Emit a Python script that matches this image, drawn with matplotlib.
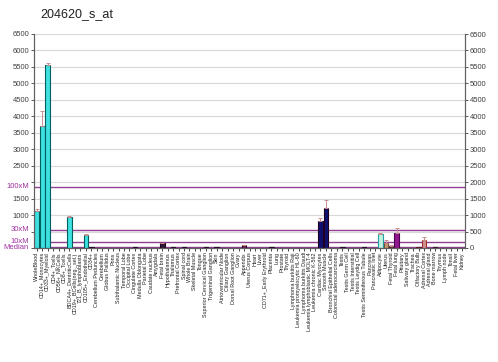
import matplotlib
matplotlib.use("Agg")
import matplotlib.pyplot as plt
import numpy as np

plt.rcParams['font.family'] = ['Liberation Sans', 'DejaVu Sans']

title = "204620_s_at"
samples = [
    "WholeBlood", "CD14+_Monocytes", "CD33+_Myeloid", "CD4+_Tcells", "CD56+_NKCells",
    "CD8+_Tcells", "BDCA4+_DentriticCells", "CD19+_BCells(neg._sel.)", "721_B_lymphoblasts",
    "CD105+_Endothelial", "CD34+", "Cerebellum Peduncles", "Cerebellum", "Globus Pallidus",
    "Pons", "Subthalamic Nucleus", "Temporal Lobe", "Occipital Lobe", "Cingulate Cortex",
    "Medulla Oblongata", "Parietal Lobe", "Caudate nucleus", "Amygdala", "Fetal brain",
    "Hypothalamus", "Thalamus", "Prefrontal Cortex", "Spinal cord", "Whole Brain",
    "Skeletal Muscle", "Tongue", "Superior Cervical Ganglion", "Trigeminal Ganglion", "Skin",
    "Atrioventricular Node", "Ciliary Ganglion", "Dorsal Root Ganglion", "Ovary", "Appendix",
    "Uterus Corpus", "Heart", "Liver", "CD71+_Early Erythroid", "Placenta", "Lung", "Prostate",
    "Thyroid", "Lymphoma burkitts Raji", "Leukemia promyelocytic HL-60",
    "Lymphoma burkitts Daudi", "Leukemia lymphoblastic MOLT-4", "Leukemia chronic K-562",
    "Cardiac Myocytes", "Smooth Muscle", "Bronchial Epithelial Cells",
    "Colorectal adenocarcinoma", "Testis", "Testis Germ Cell", "Testis Interstitial",
    "Testis Leydig Cell", "Testis Seminiferous Tubule", "Pancreas", "Pancreatic Islet",
    "Adipocyte", "Uterus", "Fetal Thyroid", "Fetal lung", "Pituitary", "Salivary gland",
    "Trachea", "Olfactory Bulb", "Adrenal Cortex", "Adrenal gland", "Bone marrow", "Thymus",
    "Lymph node", "Tonsil", "Fetal liver", "Kidney",
]
values = [
    1130, 3720, 5550, 12, 14, 12, 940, 10, 12, 400,
    40, 12, 10, 10, 12, 10, 12, 10, 30, 12,
    10, 12, 10, 140, 12, 40, 10, 30, 12, 10,
    12, 30, 10, 25, 10, 12, 10, 12, 90, 10,
    12, 10, 12, 20, 10, 12, 10, 12, 10, 12,
    10, 12, 830, 1220, 12, 10, 30, 10, 12, 10,
    30, 12, 10, 430, 150, 70, 470, 12, 10, 12,
    40, 230, 12, 20, 10, 12, 10, 12, 10,
]
errors = [
    60, 430, 70, 0, 0, 0, 30, 0, 0, 30,
    0, 0, 0, 0, 0, 0, 0, 0, 0, 0,
    0, 0, 0, 20, 0, 0, 0, 0, 0, 0,
    0, 0, 0, 0, 0, 0, 0, 0, 10, 0,
    0, 0, 0, 0, 0, 0, 0, 0, 0, 0,
    0, 0, 70, 230, 0, 0, 0, 0, 0, 0,
    0, 0, 0, 20, 100, 10, 130, 0, 0, 0,
    0, 110, 0, 0, 0, 0, 0, 0, 0,
]
# group colours (fill, edge) by sample index
fills = (["#3ee0e0"] * 10 + ["#301830"] * 19 + ["#502040"] * 9 + ["#802050"] * 2 +
         ["#502040"] * 12 + ["#101070"] * 4 + ["#602060"] * 7 +
         ["#c0f0e0", "#c09878", "#603040", "#901890", "#602050", "#602050",
          "#502040", "#a04050", "#d09090", "#602050", "#502040", "#602050",
          "#502040", "#602050", "#502040", "#602050"])
edges = (["#006060"] * 10 + ["#200020"] * 53 +
         ["#20a0a0", "#805030", "#301020", "#500050", "#301020", "#301020",
          "#301020", "#601020", "#a03030", "#301020", "#301020", "#301020",
          "#301020", "#301020", "#301020", "#301020"])
median = 18.6
ymax = 6500

fig = plt.figure(figsize=(4.98, 3.62), dpi=100)
ax = fig.add_axes([34/498, (362-248)/362, (465-34)/498, (248-34)/362])
x = np.arange(len(samples))
ax.set_xlim(-0.5, len(samples) - 0.5)
ax.set_ylim(0, ymax)

yt = np.arange(0, ymax + 1, 500)
for v in yt[1:]:
    ax.axhline(v, color="#d8d8d8", lw=0.8, zorder=0)

ax.bar(x, values, width=0.85, color=fills, edgecolor=edges, linewidth=0.8, zorder=2)
mask = np.array(errors) > 0
ax.errorbar(x[mask], np.array(values)[mask], yerr=[np.zeros(mask.sum()), np.array(errors)[mask]],
            fmt="none", ecolor="#c89090", elinewidth=0.7, capsize=1.5, capthick=0.7, zorder=3)

mult = [(1, "Median"), (10, "10xM"), (30, "30xM"), (100, "100xM")]
for m, lab in mult:
    ax.axhline(median * m, color="#904090", lw=1.0, zorder=1)
    ax.text(-0.012, median * m, lab, transform=ax.get_yaxis_transform(), ha="right",
            va="center", fontsize=5.5, color="#a030a0")

hide = {0, 500, 2000}
ax.set_yticks(yt)
ax.set_yticklabels(["" if v in hide else str(v) for v in yt], fontsize=5.5, color="#404040")
ax.tick_params(axis="y", length=2.5, width=0.6, colors="#404040", pad=1)

ax2 = ax.twinx()
ax2.set_ylim(0, ymax)
ax2.set_yticks(yt)
ax2.set_yticklabels([str(v) for v in yt], fontsize=5.5, color="#404040")
ax2.tick_params(axis="y", length=2.5, width=0.6, colors="#404040", pad=1)

ax.set_xticks(x)
ax.set_xticklabels(samples, rotation=90, fontsize=3.9, color="#202020")
ax.tick_params(axis="x", length=2, width=0.5, pad=1)

for a in (ax, ax2):
    a.spines["top"].set_visible(False)
    a.spines["left"].set_color("#606060")
    a.spines["right"].set_color("#606060")
    a.spines["bottom"].set_color("#606060")
    a.spines["left"].set_linewidth(0.8)
    a.spines["right"].set_linewidth(0.8)

fig.text(40/498, 1 - 14/362, title, fontsize=9, color="#202020", va="center", ha="left")

fig.savefig("out.png", dpi=100)
